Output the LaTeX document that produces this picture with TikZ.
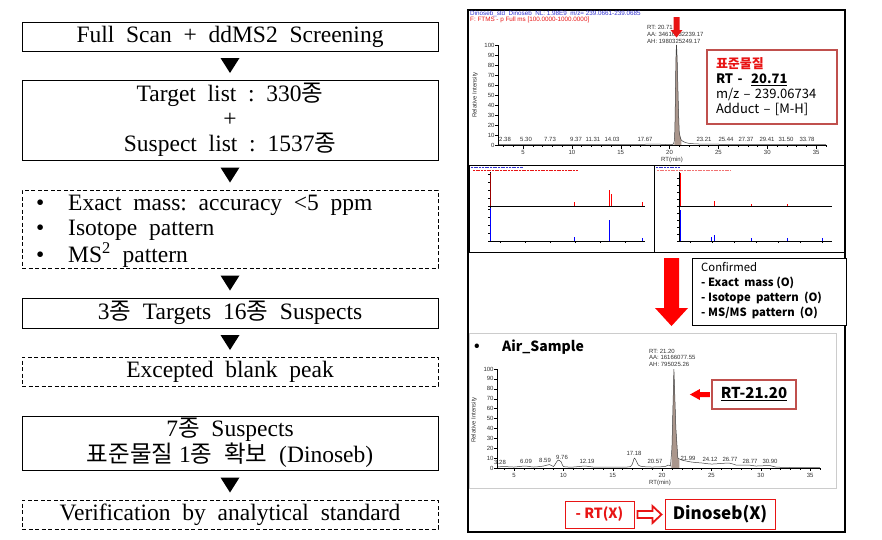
\documentclass[tikz,border=0pt]{standalone}
\usepackage{fontspec}
\setmainfont{Liberation Serif}
\newfontfamily\kr{Noto Sans CJK KR}
\newfontfamily\ar{Liberation Sans}
\usetikzlibrary{calc}
\definecolor{boxred}{RGB}{192,80,77}
\definecolor{brightred}{RGB}{232,20,20}
\definecolor{hdrblue}{RGB}{50,50,210}
\definecolor{peakfill}{RGB}{170,150,140}
\newcommand{\kj}{{\kr 종}}
\begin{document}
\begin{tikzpicture}[x=1pt,y=-1pt,
  flow/.style={draw, line width=0.8pt, minimum width=416pt, inner sep=0pt, align=center,
     font=\fontsize{23.5}{25}\selectfont},
  flowd/.style={flow, dash pattern=on 4pt off 2.5pt},
  flowtxt/.style={inner sep=0pt, anchor=west, font=\fontsize{23.5}{25}\selectfont},
  tiny/.style={inner sep=0pt, font=\ar\fontsize{6}{7}\selectfont, text=black!80},
  hdr/.style={inner sep=0pt, anchor=west, font=\ar\fontsize{6.3}{7}\selectfont},
  redbox/.style={draw=boxred, line width=2.2pt, fill=white},
  trace/.style={line width=0.5pt, black!75},
]
\useasboundingbox (0,0) rectangle (882,539);
\fill[white] (0,0) rectangle (882,539);

% ---------------- left flow chart ----------------
\node[flow, minimum height=29pt] (b1) at (230,36.5) {Full\ \ Scan\ \ +\ \ ddMS2\ \ Screening};
\node[flow, minimum height=80pt] (b2) at (230,120) {Target\ \ list\ \ :\ \ 330\kj\\+\\Suspect\ \ list\ \ :\ \ 1537\kj};
\node[flowd, minimum height=78pt] (b3) at (230,229) {};
\node[flowtxt] (b3a) at (36,205) {\makebox[32pt][l]{\textbullet}Exact\ \ mass:\ \ accuracy\ \ <5\ \ ppm};
\node[flowtxt] (b3b) at (36,230) {\makebox[32pt][l]{\textbullet}Isotope\ \ pattern};
\node[flowtxt] (b3c) at (36,255) {\makebox[32pt][l]{\textbullet}MS\textsuperscript{2}\ \ pattern};
\node[flow, minimum height=30pt] (b4) at (230,313) {3\kj\ \ Targets\ \ 16\kj\ \ Suspects};
\node[flowd, minimum height=29pt] (b5) at (230,371.5) {Excepted\ \ blank\ \ peak};
\node[flow, minimum height=54pt, font=\fontsize{23.5}{24}\selectfont] (b6) at (230,443) {7\kj\ \ Suspects\\{\kr 표준물질}\ 1\kj\ \ {\kr 확보}\ \ (Dinoseb)};
\node[flowd, minimum height=29pt] (b7) at (230,514.5) {Verification\ \ by\ \ analytical\ \ standard};
\foreach \a/\b in {b1/b2,b2/b3,b3/b4,b4/b5,b6/b7}
  \fill ($(\a.south)!0.5!(\b.north)$) ++(-9.5,-7.5) -- ++(19,0) -- ++(-9.5,15) -- cycle;

% ---------------- right panel ----------------
\draw[line width=1.2pt] (468,10) rectangle (845,532);

% headers of top chromatogram
\node[hdr, text=hdrblue] (h1) at (470,13.5) {Dinoseb\_std\ \ Dinoseb\ \ NL: 1.98E9\ \ m/z= 239.0661-239.0685};
\node[hdr, text=brightred] (h2) at (470,19.5) {F: FTMS - p Full ms [100.0000-1000.0000]};

% top chromatogram
\begin{scope}[shift={(474.15,145)}, x=9.77pt, y=1pt]
  \fill[peakfill] (20.5,0) -- (20.55,20) -- (20.65,85) -- (20.71,100) -- (20.78,85) -- (20.9,40) -- (21.0,12) -- (21.2,5) -- (21.2,0) -- cycle;
  \draw[trace] plot[smooth, tension=0.3] coordinates {(2.5,0.6) (5,0.7) (10,0.6) (15,0.7) (19,0.8) (20.4,1) (20.55,20) (20.65,85) (20.71,100) (20.78,85) (20.9,40) (21.0,12) (21.2,5) (21.5,3) (22,1.6) (23,1) (26,0.7) (36,0.6)};
  \draw[line width=0.4pt] (2.44,100) -- (2.44,0) -- (36.1,0);
  \foreach \t in {3,...,36} \draw[line width=0.3pt] (\t,0) -- ++(0,-2);
  \foreach \t in {5,10,...,35} {\draw[line width=0.4pt] (\t,0) -- ++(0,-3.5); \node[tiny] at (\t,-7.5) {\t};}
  \foreach \v in {0,10,...,100} {\draw[line width=0.4pt] (2.44,\v) -- ++(-0.3,0); \node[tiny, anchor=east] at (2.1,\v) {\v};}
\end{scope}
\node[tiny, rotate=90] (ylab1) at (475,95) {Relative Intensity};
\node[tiny] (xlab1) at (672,159.5) {RT(min)};
\foreach \x/\l in {505/2.38,526/5.30,550/7.73,576/9.37,593/11.31,612/14.03,645/17.67,704/23.21,726/25.44,746/27.37,767/29.41,786/31.50,807/33.78}
  \node[tiny] at (\x,139.5) {\l};
\node[tiny, anchor=west] (rt1) at (647,27) {RT: 20.71};
\node[tiny, anchor=west] (aa1) at (647,34) {AA: 34616732239.17};
\node[tiny, anchor=west] (ah1) at (647,41) {AH: 1980325249.17};
\fill[brightred] (673.5,17) -- (679.5,17) -- (679.5,30) -- (682.5,30) -- (676.5,37.5) -- (670.5,30) -- (673.5,30) -- cycle;

% standard box
\node[redbox, align=left, text width=112pt, inner xsep=9pt, minimum height=74pt,
      font=\kr\fontsize{13}{15}\selectfont] (stdbox) at (772,87)
  {{\color{brightred}\bfseries 표준물질}\\\textbf{RT\ -\ \ \underline{20.71}}\\m/z – 239.06734\\Adduct – [M-H]};

% spectra panels
\draw[line width=0.6pt] (469,165) rectangle (654,252);
\draw[line width=0.6pt] (654,165) rectangle (845,252);
\draw[hdrblue, line width=1pt, dash pattern=on 2pt off 0.7pt] (471,167.5) -- (523,167.5);
\draw[brightred, line width=0.8pt, dash pattern=on 2pt off 0.7pt] (473,170.5) -- (578,170.5);
\draw[hdrblue, line width=1pt, dash pattern=on 2pt off 0.7pt] (656,167.5) -- (680,167.5);
\draw[brightred!60, line width=0.8pt, dash pattern=on 2pt off 0.7pt] (657,170.5) -- (730,170.5);
% left spectrum
\draw[line width=0.4pt] (490,172) -- (490,206) -- (645,206);
\draw[line width=0.4pt] (490,207) -- (490,241) -- (645,241);
\foreach \y in {206,198,190,182,174} \draw[line width=0.3pt] (490,\y) -- ++(-2,0);
\foreach \y in {241,233,225,217,209} \draw[line width=0.3pt] (490,\y) -- ++(-2,0);
\foreach \x in {500,525,550,575,600,625} \draw[line width=0.3pt] (\x,241) -- ++(0,2);
\draw[red!60!black, line width=1pt] (490.6,206) -- (490.6,173);
\draw[red, line width=1pt] (609,206) -- (609,190);
\draw[red, line width=1pt] (611.5,206) -- (611.5,194);
\draw[red, line width=0.5pt] (574,206) -- (574,202) (642,206) -- (642,202);
\draw[blue, line width=1.2pt] (490.6,241) -- (490.6,208);
\draw[blue, line width=0.9pt] (609,241) -- (609,220);
\draw[blue, line width=0.5pt] (574,241) -- (574,237) (642,241) -- (642,238);
% right spectrum
\draw[line width=0.4pt] (679,172) -- (679,206) -- (832,206);
\draw[line width=0.4pt] (679,207) -- (679,241) -- (832,241);
\foreach \y in {206,199,192,185,178} \draw[line width=0.3pt] (679,\y) -- ++(-2,0);
\foreach \y in {241,234,227,220,213} \draw[line width=0.3pt] (679,\y) -- ++(-2,0);
\foreach \x in {690,712,734,756,778,800,822} \draw[line width=0.3pt] (\x,241) -- ++(0,2);
\draw[red, line width=1.2pt] (680.5,206) -- (680.5,173);
\draw[red, line width=0.6pt] (714,206) -- (714,201) (751,206) -- (751,204) (787,206) -- (787,204);
\draw[blue, line width=1.2pt] (680.5,241) -- (680.5,210);
\draw[blue, line width=0.6pt] (711,241) -- (711,237) (714,241) -- (714,235) (751,241) -- (751,238) (787,241) -- (787,238) (822,241) -- (822,238);

% big red arrow
\fill[red] (664,258) -- (679,258) -- (679,308) -- (688,308) -- (671.5,326) -- (655,308) -- (664,308) -- cycle;

% confirmed box
\node[draw, line width=0.8pt, fill=white, minimum width=154pt, minimum height=67pt] (conf) at (769,291.5) {};
\node[align=left, anchor=west, inner sep=0pt, font=\kr\fontsize{11.3}{15}\selectfont] (conftxt) at (701,291) {Confirmed\\\textbf{-\ Exact\ \ mass\ (O)}\\\textbf{-\ Isotope\ \ pattern\ \ (O)}\\\textbf{-\ MS/MS\ \ pattern\ \ (O)}};

% air sample panel
\draw[black!20, line width=0.8pt] (469,333) rectangle (836,488);
\node[inner sep=0pt, font=\kr\bfseries\fontsize{14}{16}\selectfont] (bul) at (477,347) {•};
\node[inner sep=0pt, anchor=west, font=\kr\bfseries\fontsize{14}{16}\selectfont] (air) at (502,347) {Air\_Sample};
\begin{scope}[shift={(464.65,468)}, x=9.87pt, y=0.99pt]
  \fill[peakfill] (20.95,0) -- (21.0,20) -- (21.2,100) -- (21.4,40) -- (21.6,10) -- (21.75,8) -- (21.75,0) -- cycle;
  \draw[trace] plot[smooth, tension=0.4] coordinates {(3.3,1) (4,1.5) (5,1) (6.1,2) (7,1) (8,2) (8.6,3.5) (9,1.5) (9.3,6) (9.5,8) (9.8,6) (10,1.5) (11,1) (12.2,2) (13,1) (15,1) (16.8,1.5) (17.2,10) (17.6,3) (18,1.5) (19,1) (20.3,1.5) (20.6,3) (20.85,2)};
  \draw[trace] (20.85,2) -- (21.0,20) -- (21.2,100) -- (21.4,40) -- (21.6,10);
  \draw[trace] plot[smooth, tension=0.4] coordinates {(21.6,10) (22,8) (23,6) (24.1,5) (25,4) (26.8,5) (27.5,3) (28.8,3) (29.5,2) (30.9,2.5) (31.5,1) (33,0.5) (36,0.4)};
  \draw[line width=0.4pt] (3.28,100) -- (3.28,0) -- (36.1,0);
  \foreach \t in {4,...,36} \draw[line width=0.3pt] (\t,0) -- ++(0,-2);
  \foreach \t in {5,10,...,35} {\draw[line width=0.4pt] (\t,0) -- ++(0,-3.5); \node[tiny] at (\t,-7.5) {\t};}
  \foreach \v in {0,10,...,100} {\draw[line width=0.4pt] (3.28,\v) -- ++(-0.3,0); \node[tiny, anchor=east] at (2.95,\v) {\v};}
\end{scope}
\node[tiny, rotate=90] (ylab2) at (474,420) {Relative Intensity};
\node[tiny] (xlab2) at (660,482.5) {RT(min)};
\foreach \x/\y/\l in {500/462/3.28,526/461/6.09,545/460/8.59,562/457/9.76,587/461/12.19,634/453/17.18,655/461/20.57,688/458/21.99,710/459/24.12,730/459/26.77,750/461/28.77,770/461/30.90}
  \node[tiny] at (\x,\y) {\l};
\node[tiny, anchor=west] (rt2) at (649,351) {RT: 21.20};
\node[tiny, anchor=west] (aa2) at (649,357.5) {AA: 16166077.55};
\node[tiny, anchor=west] (ah2) at (649,364) {AH: 795025.26};

% RT-21.20 box and arrow
\node[redbox, minimum width=84pt, minimum height=29pt, inner sep=0pt,
      font=\kr\bfseries\fontsize{15}{18}\selectfont] (rtbox) at (754,394.5) {\underline{RT-21.20}};
\fill[red] ($(rtbox.west)+(-1,-2.5)$) -- ++(-10,0) -- ++(0,-3) -- ++(-10,5.5) -- ++(10,5.5) -- ++(0,-3) -- ++(10,0) -- cycle;

% bottom
\node[draw=brightred, line width=0.9pt, minimum width=69pt, minimum height=27pt, inner sep=0pt,
      text=brightred, font=\kr\bfseries\fontsize{14}{16}\selectfont] (rtx) at (599.5,514.5) {- RT(X)};
\node[draw=brightred, line width=0.9pt, minimum width=110pt, minimum height=30pt, inner sep=0pt,
      font=\kr\bfseries\fontsize{17}{20}\selectfont] (dinox) at (720,514) {Dinoseb(X)};
\draw[brightred, line width=1.8pt, fill=white, line join=miter]
  ($(rtx.east)+(3,-3.5)$) -- ++(15,0) -- ++(0,-5) -- ++(9,8.5) -- ++(-9,8.5) -- ++(0,-5) -- ++(-15,0) -- cycle;
\end{tikzpicture}
\end{document}
